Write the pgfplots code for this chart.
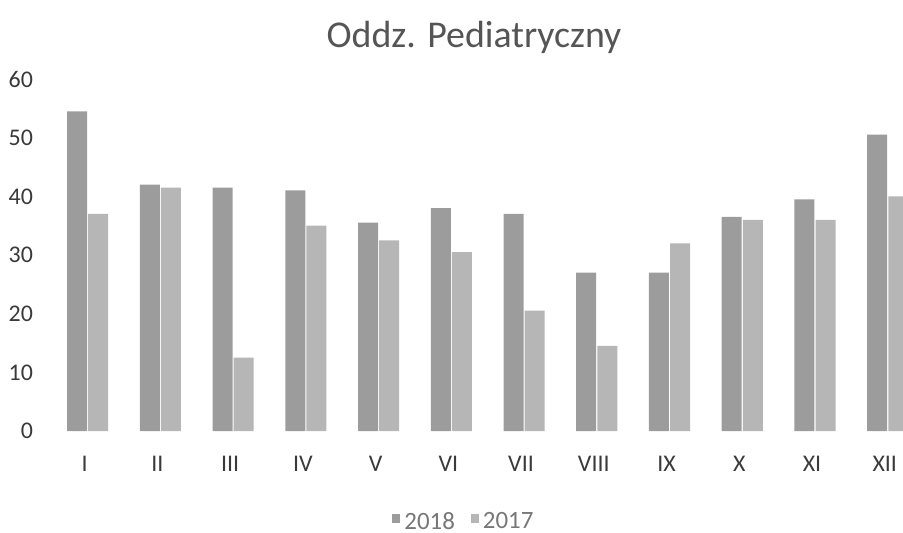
\documentclass[border=0pt]{standalone}
\usepackage{fontspec}
\setmainfont{Carlito}
\usepackage{pgfplots}
\pgfplotsset{compat=1.18}
\definecolor{cA}{HTML}{9C9C9C}
\definecolor{cB}{HTML}{B6B6B6}
\definecolor{txt}{HTML}{3A3A3A}
\definecolor{ttl}{HTML}{555555}
\definecolor{leg}{HTML}{777777}
\begin{document}
\begin{tikzpicture}
\useasboundingbox (-22bp,-51bp) rectangle (429.5bp,215.5bp);
\begin{axis}[
  at={(0,0)}, anchor=south west,
  scale only axis, width=429.5bp, height=176bp,
  xmin=-0.6, xmax=11.21, ymin=0, ymax=60,
  ytick={0,10,...,60},
  xtick={0,...,11},
  xticklabels={I,II,III,IV,V,VI,VII,VIII,IX,X,XI,XII},
  axis line style={draw=none},
  major tick length=0pt,
  tick label style={font=\fontsize{12}{14}\selectfont, text=txt},
  /pgf/number format/assume math mode=true,
  yticklabel style={xshift=-2bp},
  xticklabel style={yshift=-9bp, xshift=-1.5bp},
  ybar, bar width=0.275,
  legend style={at={(0.49,-0.259)}, anchor=center, draw=none, fill=none,
    legend columns=2, font=\fontsize{12.5}{14}\selectfont, text=leg,
    /tikz/every even column/.style={column sep=6bp}},
  legend image code/.code={\fill[#1] (1bp,-0.5bp) rectangle (5bp,4bp);},
]
\addplot[fill=cA, draw=none, bar shift=-0.145] coordinates {
 (0,54.5) (1,42) (2,41.5) (3,41) (4,35.5) (5,38) (6,37) (7,27) (8,27) (9,36.5) (10,39.5) (11,50.5)};
\addplot[fill=cB, draw=none, bar shift=0.145] coordinates {
 (0,37) (1,41.5) (2,12.5) (3,35) (4,32.5) (5,30.5) (6,20.5) (7,14.5) (8,32) (9,36) (10,36) (11,40)};
\legend{2018,2017}
\end{axis}
\node[font=\fontsize{19}{22}\selectfont, text=ttl] at (215bp,197bp) {Oddz. Pediatryczny};
\end{tikzpicture}
\end{document}
